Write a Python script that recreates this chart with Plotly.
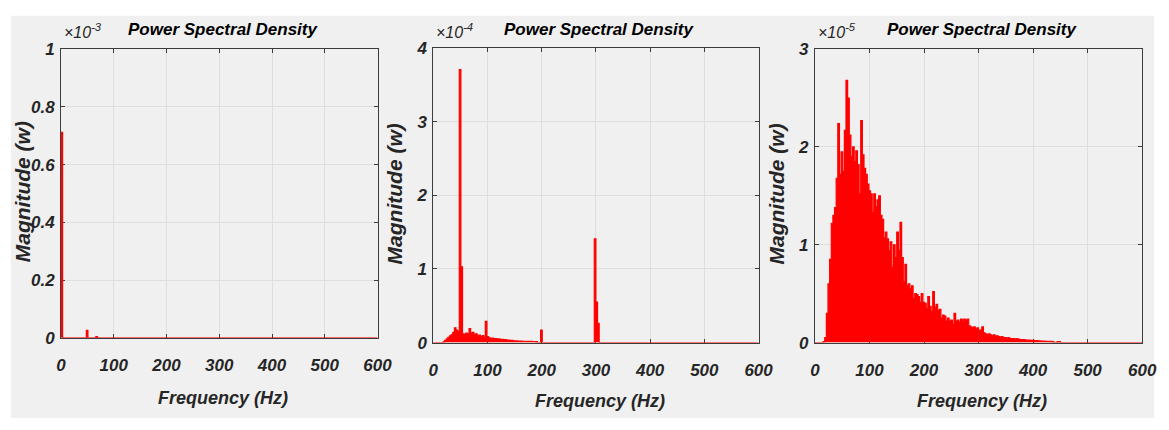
import numpy as np
import plotly.graph_objects as go

W, H = 1169, 430

# frequency grid (Hz), 3 Hz bins
freq = np.arange(0, 601, 3)

# Panel 1 (x1e-3 W): isolated tones only
p1_tone_freq = [0, 48, 66]
p1_tone_val = [0.712, 0.026, 0.004]

# Panel 2 (x1e-4 W): broadband 0..195 Hz + tones
p2_band = [0, 0, 0, 0, 0, 0, 0.01, 0.03, 0.05, 0.07, 0.09, 0.11, 0.14, 0.2, 0.17, 0.15,
           0.13, 0.12, 0.12, 0.11, 0.13, 0.12, 0.19, 0.13, 0.14, 0.11, 0.12, 0.09, 0.1, 0.08,
           0.095, 0.07, 0.075, 0.08, 0.065, 0.06, 0.06, 0.055, 0.055, 0.05, 0.05, 0.045, 0.045,
           0.04, 0.04, 0.035, 0.035, 0.03, 0.03, 0.025, 0.025, 0.022, 0.02, 0.02, 0.02, 0.018,
           0.018, 0.017, 0.017, 0.016, 0.016, 0.015, 0.015, 0.014, 0, 0]
p2_tone_freq = [48, 51, 96, 198, 297, 300, 303]
p2_tone_val = [3.71, 1.03, 0.29, 0.17, 1.41, 0.55, 0.26]

# Panel 3 (x1e-5 W): broadband 0..447 Hz
p3_band = [0, 0, 0, 0, 0, 0.01, 0.05, 0.3, 0.6, 0.85,
           1.22, 1.3, 1.38, 1.68, 2.24, 1.72, 1.95, 1.75, 2.17, 2.68,
           2.5, 2.12, 1.9, 2.0, 1.85, 1.96, 1.82, 1.52, 2.27, 1.92,
           1.78, 1.72, 1.62, 1.55, 1.52, 1.33, 1.52, 1.39, 1.46, 1.5,
           1.3, 1.26, 1.07, 1.13, 1.06, 0.94, 1.03, 0.77, 1.0, 0.87,
           1.13, 0.94, 1.23, 0.87, 0.62, 0.8, 0.58, 0.6, 0.55, 0.58,
           0.45, 0.5, 0.49, 0.47, 0.41, 0.5, 0.41, 0.4, 0.35, 0.47,
           0.37, 0.32, 0.52, 0.36, 0.39, 0.33, 0.34, 0.25, 0.28, 0.27,
           0.22, 0.25, 0.22, 0.23, 0.19, 0.3, 0.22, 0.23, 0.21, 0.24,
           0.22, 0.24, 0.23, 0.24, 0.17, 0.16, 0.15, 0.16, 0.14, 0.15,
           0.12, 0.13, 0.16, 0.1, 0.09, 0.08, 0.09, 0.08, 0.07, 0.08,
           0.07, 0.07, 0.06, 0.055, 0.06, 0.05, 0.05, 0.045, 0.05, 0.04,
           0.04, 0.04, 0.035, 0.04, 0.035, 0.03, 0.03, 0.03, 0.028, 0.025,
           0.025, 0.025, 0.02, 0.022, 0.02, 0.02, 0.018, 0.018, 0.015, 0.015,
           0.015, 0.013, 0.013, 0.012, 0.012, 0.01, 0.0, 0.0, 0.01, 0.01]

x_ticks = [0, 100, 200, 300, 400, 500, 600]
y1_ticks = [0, 0.2, 0.4, 0.6, 0.8, 1]
y1_text = ["0", "0.2", "0.4", "0.6", "0.8", "1"]
y2_ticks = [0, 1, 2, 3, 4]
y3_ticks = [0, 1, 2, 3]
exponents = ["-3", "-4", "-5"]
title_text = "Power Spectral Density"
xlabel = "Frequency (Hz)"
ylabel = "Magnitude (w)"


def on_grid(band=None, tf=None, tv=None):
    vals = np.zeros(len(freq))
    if band is not None:
        vals[:len(band)] = band
    if tf is not None:
        for f, v in zip(tf, tv):
            i = int(round(f / 3))
            vals[i] = max(vals[i], v)
    return vals


series = [
    on_grid(tf=p1_tone_freq, tv=p1_tone_val),
    on_grid(band=p2_band, tf=p2_tone_freq, tv=p2_tone_val),
    on_grid(band=p3_band),
]

FONT = "Liberation Sans, Arial, sans-serif"
AX = "#3c3c3c"
GRID = "#dedede"
TXT = "#262626"

# panel geometry in pixels: (left, right, top, bottom)
geom = [(57, 379, 42, 344), (435.7, 766.7, 41, 349), (824, 1157, 42, 349)]
yranges = [[0, 1], [0, 4], [0, 3]]
yticks = [(y1_ticks, y1_text), (y2_ticks, [str(v) for v in y2_ticks]), (y3_ticks, [str(v) for v in y3_ticks])]

fig = go.Figure()
annotations = []
for k in range(3):
    l, r, t, b = geom[k]
    xa = "xaxis" if k == 0 else f"xaxis{k+1}"
    ya = "yaxis" if k == 0 else f"yaxis{k+1}"
    xr = "x" if k == 0 else f"x{k+1}"
    yr = "y" if k == 0 else f"y{k+1}"
    fig.add_trace(go.Scatter(
        x=freq, y=series[k], mode="lines", line=dict(color="#ff0000", width=1.2, shape="hv"),
        fill="tozeroy", fillcolor="#ff0000", xaxis=xr, yaxis=yr, showlegend=False,
        hoverinfo="skip"))
    common = dict(showline=True, linecolor=AX, linewidth=1, mirror="ticks", ticks="inside",
                  ticklen=4, tickcolor=AX, showgrid=True, gridcolor=GRID, gridwidth=1,
                  zeroline=False, layer="below traces",
                  tickfont=dict(family=FONT, size=17, color=TXT, weight="bold", style="italic"))
    fig.layout[xa] = dict(domain=[l / W, r / W], range=[0, 600], tickvals=x_ticks,
                          anchor=yr, ticklabelstandoff=12, **common)
    fig.layout[ya] = dict(domain=[1 - b / H, 1 - t / H], range=yranges[k],
                          tickvals=yticks[k][0], ticktext=yticks[k][1], anchor=xr,
                          ticklabelstandoff=2, **common)
    cx = (l + r) / 2
    annotations.append(dict(text=title_text, x=(cx + 4) / W, y=1 - 21 / H, xref="paper", yref="paper",
                            xanchor="center", yanchor="middle", showarrow=False,
                            font=dict(family=FONT, size=17, color="#000000", weight="bold", style="italic")))
    annotations.append(dict(text=xlabel, x=(cx + 4) / W, y=1 - (407 if k == 0 else 410) / H,
                            xref="paper", yref="paper", xanchor="center", yanchor="middle",
                            showarrow=False,
                            font=dict(family=FONT, size=18, color=TXT, weight="bold", style="italic")))
    annotations.append(dict(text=ylabel, x=(l - 39) / W, y=1 - ((t + b) / 2 - 2) / H,
                            xref="paper", yref="paper", xanchor="center", yanchor="middle",
                            textangle=-90, showarrow=False,
                            font=dict(family=FONT, size=21, color=TXT, weight="bold", style="italic")))
    annotations.append(dict(text="\u00d710<sup>" + exponents[k] + "</sup>", x=(l + 1) / W, y=1 - 36 / H,
                            xref="paper", yref="paper", xanchor="left", yanchor="bottom",
                            showarrow=False,
                            font=dict(family=FONT, size=16, color=TXT, style="italic")))

fig.update_layout(
    width=W, height=H, margin=dict(l=0, r=0, t=0, b=0),
    paper_bgcolor="#ffffff", plot_bgcolor="#ffffff",
    annotations=annotations,
    shapes=[dict(type="rect", xref="paper", yref="paper", x0=6 / W, x1=1, y0=1 - 428 / H, y1=1 - 7 / H,
                 fillcolor="#f0f0f0", line=dict(width=0), layer="below")],
)

# make sure the figure starts at the window's top-left corner
fig.write_html("out.html", post_script="document.body.style.margin='0';document.body.style.padding='0';")
